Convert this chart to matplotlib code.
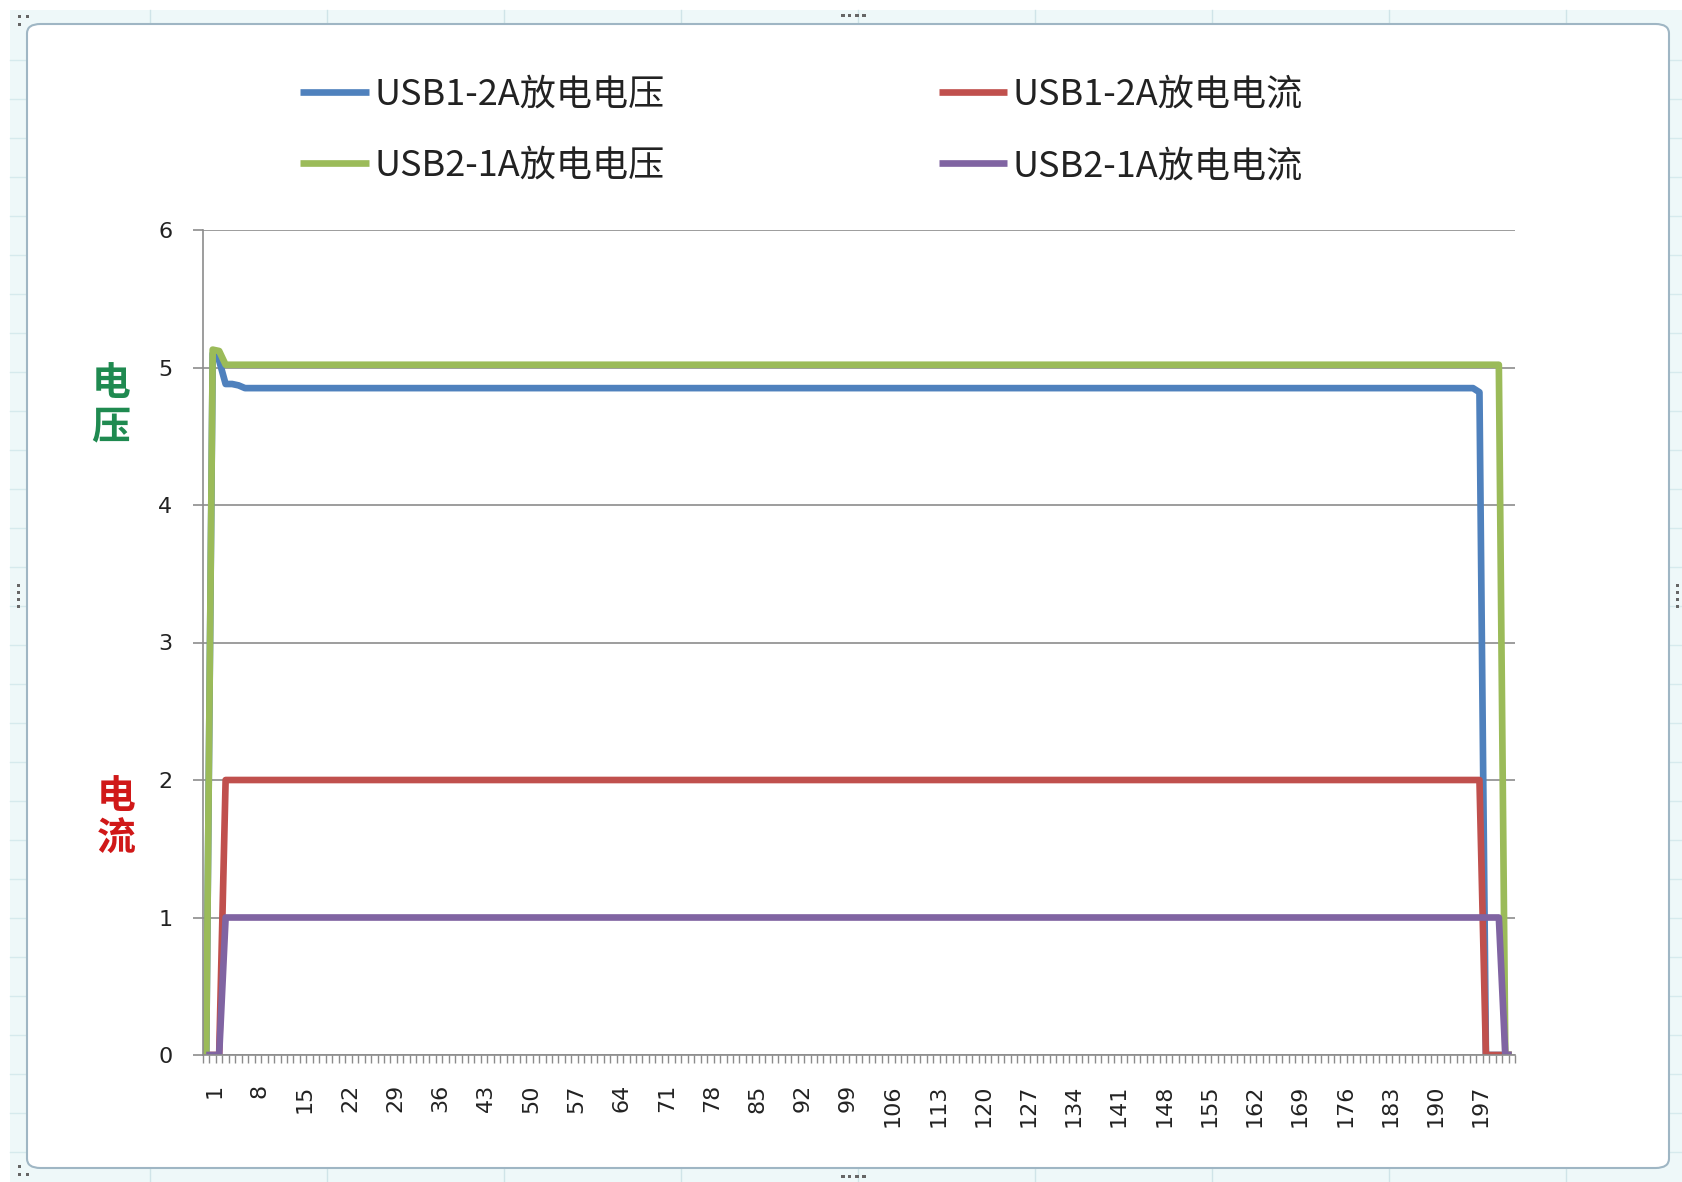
import matplotlib.pyplot as plt
import matplotlib.transforms as mtransforms
import numpy as np
from matplotlib.patches import FancyBboxPatch, Rectangle
from matplotlib.lines import Line2D

plt.rcParams['font.family'] = ['Noto Sans CJK SC', 'DejaVu Sans']

W, H = 1683, 1182

# discharge log, one sample per category
categories = list(range(1, 204))
usb1_voltage = [0, 5.10, 5.05, 4.88, 4.88, 4.87] + [4.85] * 191 + [4.82, 0, 0, 0, 0, 0]
usb1_current = [0, 0, 0] + [2.0] * 195 + [0, 0, 0, 0, 0]
usb2_voltage = [0, 5.13, 5.12] + [5.02] * 198 + [0, 0]
usb2_current = [0, 0, 0] + [1.0] * 198 + [0, 0]
tick_labels = [str(c) for c in categories[::7]]

names = ['USB1-2A放电电压', 'USB1-2A放电电流', 'USB2-1A放电电压', 'USB2-1A放电电流']
colors = ['#4F81BD', '#C0504D', '#9BBB59', '#8064A2']


def fx(px):
    return px / W


def fy(py):
    return 1 - py / H


def main():
    fig = plt.figure(figsize=(W / 100, H / 100), dpi=100)
    fig.patch.set_facecolor('white')

    # spreadsheet strip around the chart object
    fig.add_artist(Rectangle((fx(10), fy(H)), fx(W - 10), fy(10) - fy(H),
                             transform=fig.transFigure, facecolor='#eef8f9',
                             edgecolor='none', zorder=0))
    for gx in np.arange(150, W, 177):
        fig.add_artist(Line2D([fx(gx), fx(gx)], [fy(10), fy(H)], transform=fig.transFigure,
                              color='#cfe4e8', lw=1, zorder=0.5))
    for gy in np.arange(60, H, 39):
        fig.add_artist(Line2D([fx(10), fx(W)], [fy(gy), fy(gy)], transform=fig.transFigure,
                              color='#d6eaed', lw=1, zorder=0.5))

    frame = FancyBboxPatch((fx(27), fy(1168)), fx(1669 - 27), fy(24) - fy(1168),
                           boxstyle='round,pad=0,rounding_size=0.008',
                           transform=fig.transFigure, facecolor='white',
                           edgecolor='#9fb6c4', lw=1.5, zorder=1)
    fig.add_artist(frame)

    # resize handles
    handle_pts = [(843, 15), (850, 15), (857, 15), (864, 15),
                  (843, 1176), (850, 1176), (857, 1176), (864, 1176),
                  (19, 585), (19, 592), (19, 599), (19, 606),
                  (1678, 585), (1678, 592), (1678, 599), (1678, 606),
                  (20, 16), (28, 16), (20, 24),
                  (20, 1174), (28, 1174), (20, 1166)]
    for hx, hy in handle_pts:
        fig.add_artist(Rectangle((fx(hx - 1.5), fy(hy + 1.5)), fx(3), fy(0) - fy(3),
                                 transform=fig.transFigure, facecolor='#666666',
                                 edgecolor='none', zorder=2))

    ax = fig.add_axes([fx(203), fy(1055), fx(1515 - 203), fy(230) - fy(1055)])
    ax.set_zorder(3)
    ax.patch.set_visible(False)

    series = [usb1_voltage, usb1_current, usb2_voltage, usb2_current]
    lines = []
    for vals, name, c in zip(series, names, colors):
        ln, = ax.plot(categories, vals, color=c, lw=4.8, label=name,
                      solid_joinstyle='round', solid_capstyle='butt')
        lines.append(ln)

    ax.set_xlim(0.5, len(categories) + 0.5)
    ax.set_ylim(0, 6)
    ax.set_yticks(range(7))
    ax.yaxis.grid(True, color='#8c8c8c', lw=1.2)
    ax.set_axisbelow(True)
    for s in ['top', 'right']:
        ax.spines[s].set_visible(False)
    for s in ['left', 'bottom']:
        ax.spines[s].set_color('#8c8c8c')
        ax.spines[s].set_linewidth(1.2)

    ax.set_xticks(categories[::7])
    ax.set_xticklabels(tick_labels, rotation=90, fontsize=16, family='DejaVu Sans', color='#222222')
    ax.set_xticks(np.arange(0.5, len(categories) + 1, 1), minor=True)
    ax.tick_params(axis='x', which='major', length=0, pad=21)
    ax.tick_params(axis='x', which='minor', length=6, width=1, color='#8c8c8c')
    ax.tick_params(axis='y', length=7, width=1.2, color='#8c8c8c', pad=15)
    for lab in ax.get_yticklabels():
        lab.set_fontsize(16)
        lab.set_family('DejaVu Sans')
        lab.set_color('#222222')
    shift = mtransforms.ScaledTranslation(8 / 100, 0, fig.dpi_scale_trans)
    for lab in ax.get_xticklabels():
        lab.set_transform(lab.get_transform() + shift)

    # legend rows: blue/red on top, green/purple below
    order = [0, 2, 1, 3]
    leg = fig.legend([lines[i] for i in order], [names[i] for i in order],
                     loc='upper left', bbox_to_anchor=(fx(300), fy(77)), ncol=2,
                     frameon=False, fontsize=26, handlelength=1.9, handletextpad=0.15,
                     columnspacing=7.6, labelspacing=0.97, borderpad=0, borderaxespad=0)
    for t in leg.get_texts():
        t.set_color('#222222')

    fig.text(fx(111), fy(405), '电\n压', color='#1f8a50', fontsize=28, fontweight='bold',
             ha='center', va='center', linespacing=1.15)
    fig.text(fx(116), fy(818), '电\n流', color='#d01818', fontsize=28, fontweight='bold',
             ha='center', va='center', linespacing=1.15)

    fig.savefig('out.png', dpi=100)


main()
